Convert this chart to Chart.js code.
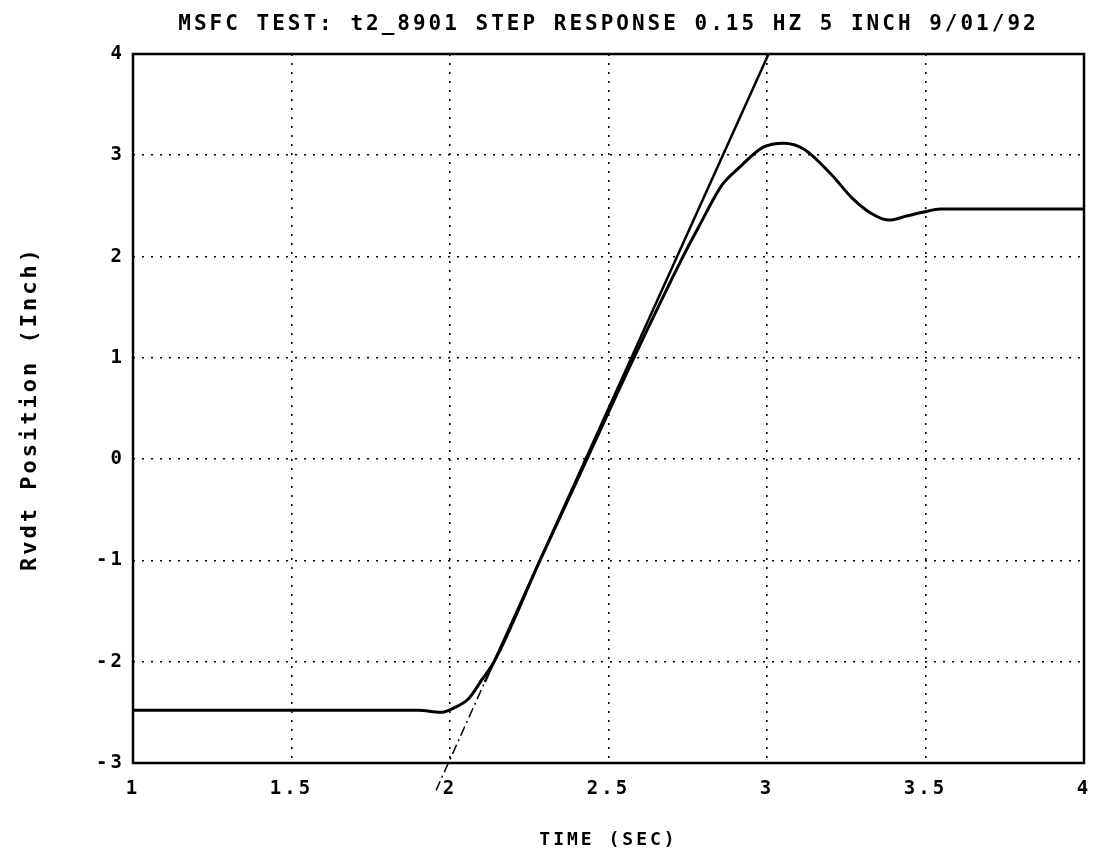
<!DOCTYPE html>
<html>
<head>
<meta charset="utf-8">
<script src="https://cdn.jsdelivr.net/npm/chart.js@4.4.0/dist/chart.umd.min.js"></script>
<style>
  html, body { margin: 0; padding: 0; background: #fff; }
  #wrap { width: 1098px; height: 856px; }
</style>
</head>
<body>
<div id="wrap"><canvas id="stepChart"></canvas></div>
<script>
const chartTitle = 'MSFC TEST: t2_8901 STEP RESPONSE 0.15 HZ 5 INCH 9/01/92';
const xTitle = 'TIME (SEC)';
const yTitle = 'Rvdt Position (Inch)';

// measured rvdt response (sec, inch)
const responseTime = [1.0, 1.5, 1.9, 1.97, 2.01, 2.06, 2.10, 2.139, 2.284, 2.432, 2.58, 2.735, 2.784, 2.859, 2.913, 2.988, 3.053, 3.117, 3.203, 3.268, 3.332, 3.386, 3.44, 3.494, 3.547, 3.6, 4.0];
const responsePos = [-2.48, -2.48, -2.48, -2.50, -2.46, -2.36, -2.18, -2.0, -1.0, 0.0, 1.0, 2.0, 2.29, 2.71, 2.88, 3.08, 3.12, 3.06, 2.81, 2.58, 2.42, 2.36, 2.40, 2.44, 2.47, 2.47, 2.47];

// rate line: dash-dot below the knee, solid above it
const slopeDashTime = [1.956, 2.11];
const slopeDashPos = [-3.27, -2.2];
const slopeSolidTime = [2.11, 3.005];
const slopeSolidPos = [-2.2, 4.0];

const toPoints = (xs, ys) => xs.map((x, i) => ({ x: x, y: ys[i] }));

Chart.defaults.font.family = '"DejaVu Sans Mono", monospace';
Chart.defaults.font.weight = 'bold';
Chart.defaults.color = '#000';

// frame, title and the wide letter spacing of the old plotter font
const plotDecor = {
    id: 'plotDecor',
    beforeDraw(chart) {
        chart.ctx.letterSpacing = '3px';
    },
    afterDraw(chart) {
        const { ctx, chartArea: a } = chart;
        ctx.save();
        ctx.strokeStyle = '#000';
        ctx.lineWidth = 2.5;
        ctx.strokeRect(a.left, a.top, a.right - a.left, a.bottom - a.top);
        ctx.font = 'bold 21px "DejaVu Sans Mono", monospace';
        ctx.fillStyle = '#000';
        ctx.textAlign = 'center';
        ctx.textBaseline = 'middle';
        ctx.fillText(chartTitle, (a.left + a.right) / 2, 25);
        ctx.restore();
    }
};

new Chart(document.getElementById('stepChart'), {
    type: 'line',
    data: {
        datasets: [{
            label: 'response',
            data: toPoints(responseTime, responsePos),
            borderColor: '#000',
            borderWidth: 3,
            cubicInterpolationMode: 'monotone'
        }, {
            label: 'rate (dash-dot)',
            data: toPoints(slopeDashTime, slopeDashPos),
            borderColor: '#000',
            borderWidth: 1.5,
            borderDash: [10, 4, 2, 4],
            clip: false
        }, {
            label: 'rate',
            data: toPoints(slopeSolidTime, slopeSolidPos),
            borderColor: '#000',
            borderWidth: 2.5
        }]
    },
    options: {
        responsive: true,
        maintainAspectRatio: false,
        animation: false,
        layout: { padding: { top: 54, right: 14, left: 0, bottom: 0 } },
        elements: { point: { radius: 0 } },
        plugins: {
            legend: { display: false },
            tooltip: { enabled: false }
        },
        scales: {
            x: {
                type: 'linear',
                min: 1,
                max: 4,
                ticks: {
                    stepSize: 0.5,
                    padding: 15,
                    font: { size: 19 },
                    callback: value => String(value)
                },
                grid: { color: '#000', lineWidth: 1.6, drawTicks: false },
                border: { display: false, dash: [2, 7] },
                title: {
                    display: true,
                    text: xTitle,
                    font: { size: 18 },
                    padding: { top: 0, bottom: 5 }
                },
                afterFit: s => {
                    s.height = 93;
                    s.paddingLeft = 0;
                    s.paddingRight = 0;
                }
            },
            y: {
                type: 'linear',
                min: -3,
                max: 4,
                ticks: { stepSize: 1, padding: 8, font: { size: 19 } },
                grid: { color: '#000', lineWidth: 1.6, drawTicks: false },
                border: { display: false, dash: [2, 7] },
                title: {
                    display: true,
                    text: yTitle,
                    font: { size: 22 },
                    padding: { top: 17, bottom: 0 }
                },
                afterFit: s => {
                    s.width = 133;
                    s.paddingTop = 0;
                    s.paddingBottom = 0;
                }
            }
        }
    },
    plugins: [plotDecor]
});
</script>
</body>
</html>
